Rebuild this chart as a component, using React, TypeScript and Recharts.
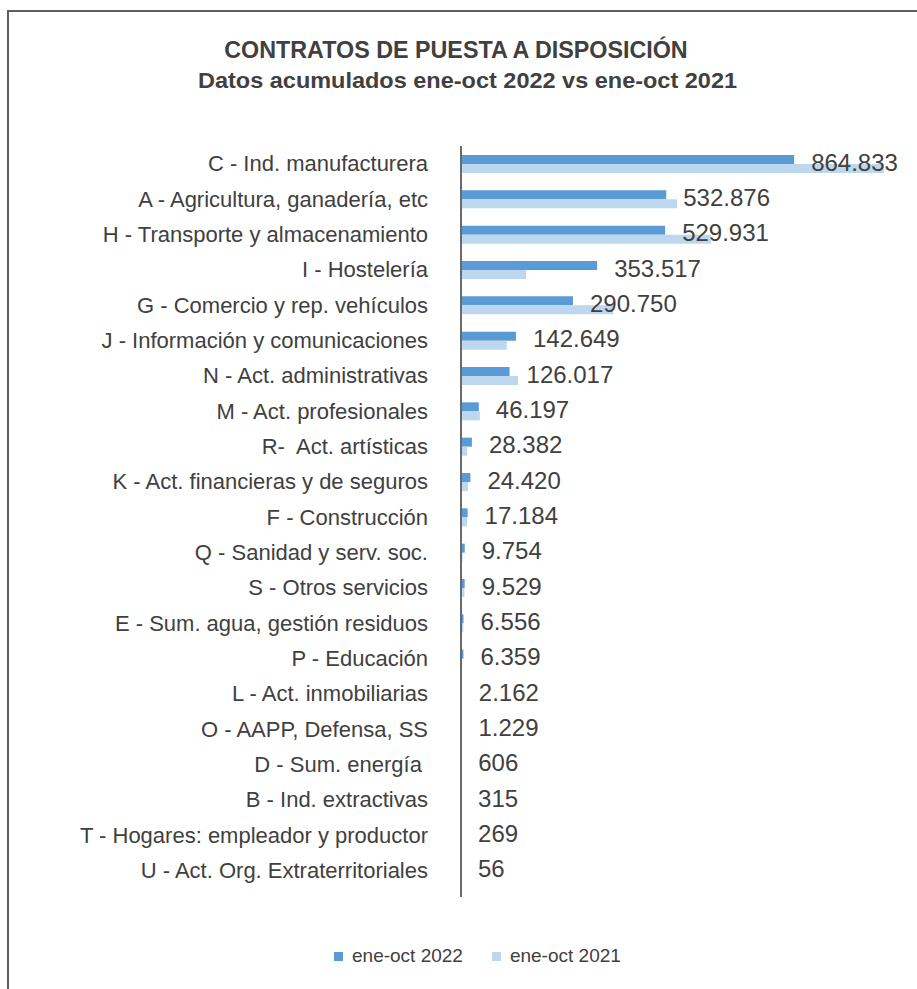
import React from "react";
import { BarChart, Bar, XAxis, YAxis, Legend, LabelList } from "recharts";

const categories = [
  "C - Ind. manufacturera",
  "A - Agricultura, ganadería, etc",
  "H - Transporte y almacenamiento",
  "I - Hostelería",
  "G - Comercio y rep. vehículos",
  "J - Información y comunicaciones",
  "N - Act. administrativas",
  "M - Act. profesionales",
  "R-  Act. artísticas",
  "K - Act. financieras y de seguros",
  "F - Construcción",
  "Q - Sanidad y serv. soc.",
  "S - Otros servicios",
  "E - Sum. agua, gestión residuos",
  "P - Educación",
  "L - Act. inmobiliarias",
  "O - AAPP, Defensa, SS",
  "D - Sum. energía ",
  "B - Ind. extractivas",
  "T - Hogares: empleador y productor",
  "U - Act. Org. Extraterritoriales",
];

const values2022 = [
  864833, 532876, 529931, 353517, 290750, 142649, 126017, 46197, 28382, 24420,
  17184, 9754, 9529, 6556, 6359, 2162, 1229, 606, 315, 269, 56,
];

const values2021 = [
  1098000, 561000, 649000, 169000, 395000, 119000, 148000, 49000, 16000, 18000,
  16000, 4000, 9000, 6000, 3000, 1500, 1000, 500, 300, 250, 50,
];

const seriesNames = ["ene-oct 2022", "ene-oct 2021"];
const seriesColors = ["#5B9BD5", "#BDD7EE"];

const titleText = "CONTRATOS DE PUESTA A DISPOSICIÓN";
const subtitleText = "Datos acumulados ene-oct 2022 vs ene-oct 2021";

const data = categories.map((name, i) => ({
  name,
  y2022: values2022[i],
  y2021: values2021[i],
}));

const FONT = "'Liberation Sans', Arial, sans-serif";
const TEXT = "#404040";

const fmt = (v: number) =>
  String(v).replace(/\B(?=(\d{3})+(?!\d))/g, ".");

const CategoryTick = (props: any) => {
  const { x, y, payload } = props;
  return (
    <text
      x={x}
      y={y}
      dy="0.355em"
      textAnchor="end"
      fill={TEXT}
      fontSize={22}
      fontFamily={FONT}
      style={{ whiteSpace: "pre" }}
    >
      {payload.value}
    </text>
  );
};

const ValueLabel = (props: any) => {
  const { x, y, width, height, value } = props;
  return (
    <text
      x={x + width + 17}
      y={y + height - 2}
      dominantBaseline="central"
      textAnchor="start"
      fill={TEXT}
      fontSize={24}
      fontFamily={FONT}
    >
      {fmt(value)}
    </text>
  );
};

const LegendContent = () => (
  <div
    style={{
      display: "flex",
      alignItems: "center",
      paddingLeft: 334,
      fontFamily: FONT,
      fontSize: 19,
      color: TEXT,
      height: 24,
    }}
  >
    {seriesNames.map((n, i) => (
      <div
        key={n}
        style={{ display: "flex", alignItems: "center", marginRight: 29 }}
      >
        <div
          style={{
            width: 9,
            height: 9,
            background: seriesColors[i],
            marginRight: 9,
          }}
        />
        <span>{n}</span>
      </div>
    ))}
  </div>
);

export default function App() {
  return (
    <div
      style={{
        position: "fixed",
        left: 0,
        top: 0,
        width: 917,
        height: 989,
        overflow: "hidden",
        background: "#fff",
      }}
    >
      <div
        style={{
          position: "absolute",
          left: 7,
          top: 10,
          width: 1000,
          height: 1000,
          border: "2px solid #5f5f5f",
        }}
      />
      <svg
        width={917}
        height={110}
        style={{ position: "absolute", left: 0, top: 0 }}
      >
        <text
          x={456}
          y={58}
          textAnchor="middle"
          fontFamily={FONT}
          fontWeight="bold"
          fontSize={23.3}
          fill={TEXT}
        >
          {titleText}
        </text>
        <text
          x={467.5}
          y={88}
          textAnchor="middle"
          fontFamily={FONT}
          fontWeight="bold"
          fontSize={21.5}
          fill={TEXT}
          textLength={539}
          lengthAdjust="spacingAndGlyphs"
        >
          {subtitleText}
        </text>
      </svg>
      <div style={{ position: "absolute", left: 0, top: 0 }}>
        <BarChart
          width={917}
          height={989}
          data={data}
          layout="vertical"
          margin={{ top: 146, right: 13, bottom: 92, left: 0 }}
          barGap={0}
          barSize={9}
        >
          <XAxis type="number" hide domain={[0, 1150000]} />
          <YAxis
            type="category"
            dataKey="name"
            width={461}
            interval={0}
            axisLine={{ stroke: "#6a6a6a", strokeWidth: 2 }}
            tickLine={false}
            tickSize={0}
            tickMargin={33}
            padding={{ top: 0, bottom: 9 }}
            tick={CategoryTick}
          />
          <Legend
            layout="horizontal"
            verticalAlign="middle"
            align="center"
            wrapperStyle={{ top: 944, left: 0, width: 917 }}
            content={LegendContent}
          />
          <Bar
            dataKey="y2022"
            name={seriesNames[0]}
            fill={seriesColors[0]}
            isAnimationActive={false}
          >
            <LabelList dataKey="y2022" content={ValueLabel} />
          </Bar>
          <Bar
            dataKey="y2021"
            name={seriesNames[1]}
            fill={seriesColors[1]}
            isAnimationActive={false}
          />
        </BarChart>
      </div>
    </div>
  );
}
